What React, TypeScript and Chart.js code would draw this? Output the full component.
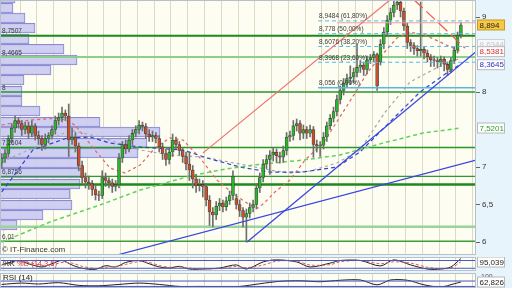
import React, { useEffect, useRef } from "react";
import { Chart, registerables } from "chart.js";
Chart.register(...registerables);

const FONT = '"Liberation Sans", Arial, sans-serif';
const AXIS_W = 36;
const X_MIN = -0.5;
const X_MAX = 141.5;

// ---- candles (one per session) ----
const opens = [
  7.05,7.12,7.18,7.38,7.52,7.62,7.58,7.50,7.55,7.45,
  7.55,7.42,7.38,7.30,7.38,7.42,7.50,7.62,7.66,7.72,
  7.68,7.36,7.40,7.28,7.02,6.86,6.80,6.78,6.70,6.63,
  6.62,6.86,6.82,6.79,6.74,6.77,7.12,7.30,7.24,7.36,
  7.45,7.50,7.56,7.54,7.44,7.40,7.42,7.38,7.27,7.18,
  7.10,7.20,7.36,7.30,7.22,7.14,7.04,6.96,6.84,6.75,
  6.77,6.74,6.56,6.40,6.36,6.48,6.52,6.47,6.55,6.62,
  6.58,6.50,6.42,6.33,6.38,6.46,6.50,6.72,6.86,7.04,
  7.10,7.16,7.20,7.15,7.13,7.22,7.40,7.42,7.55,7.58,
  7.45,7.50,7.45,7.50,7.30,7.28,7.29,7.40,7.55,7.65,
  7.74,7.90,8.02,8.12,8.18,8.20,8.26,8.33,8.36,8.30,
  8.43,8.46,8.50,8.40,8.64,8.80,8.96,9.06,9.16,9.20,
  9.08,8.88,8.66,8.62,8.58,8.55,8.57,8.52,8.47,8.43,
  8.42,8.40,8.44,8.37,8.30,8.42,8.56,8.76];
const highs = [
  7.18,7.24,7.42,7.58,7.68,7.66,7.62,7.60,7.60,7.62,
  7.58,7.48,7.42,7.44,7.46,7.55,7.68,7.72,7.80,7.76,
  7.84,7.52,7.46,7.32,7.08,6.92,6.88,6.82,6.76,6.68,
  6.95,6.92,6.86,6.84,6.82,7.18,7.34,7.36,7.42,7.50,
  7.55,7.62,7.60,7.58,7.50,7.48,7.46,7.42,7.32,7.24,
  7.26,7.44,7.40,7.34,7.26,7.20,7.20,7.02,6.90,6.84,
  6.82,6.78,6.62,6.46,6.54,6.58,6.56,6.60,6.68,6.95,
  6.64,6.56,6.46,6.44,6.52,6.56,6.78,6.92,7.10,7.16,
  7.22,7.26,7.24,7.20,7.28,7.46,7.48,7.62,7.64,7.62,
  7.56,7.54,7.56,7.54,7.36,7.34,7.46,7.60,7.70,7.80,
  7.96,8.08,8.18,8.24,8.35,8.32,8.64,8.42,8.40,8.48,
  8.50,8.54,8.52,8.70,8.86,9.02,9.12,9.22,9.26,9.24,
  9.12,8.92,8.70,8.66,8.62,9.20,8.60,8.56,8.50,8.48,
  8.46,8.48,8.47,8.40,8.46,8.60,8.80,8.93];
const lows = [
  6.98,7.06,7.14,7.32,7.46,7.52,7.42,7.44,7.38,7.40,
  7.36,7.30,7.22,7.24,7.32,7.38,7.44,7.56,7.60,7.62,
  7.14,7.30,7.20,6.95,6.78,6.72,6.70,6.62,6.56,6.55,
  6.58,6.74,6.72,6.66,6.68,6.72,7.06,7.18,7.20,7.30,
  7.40,7.44,7.48,7.38,7.34,7.34,7.32,7.20,7.10,7.02,
  7.04,7.14,7.24,7.16,7.06,6.96,6.82,6.72,6.66,6.68,
  6.60,6.48,6.22,6.20,6.30,6.42,6.40,6.42,6.50,6.56,
  6.44,6.34,6.20,6.00,6.32,6.40,6.44,6.66,6.80,6.98,
  6.90,7.08,7.06,7.05,7.06,7.16,7.34,7.36,7.48,7.36,
  7.38,7.38,7.40,7.13,7.20,7.14,7.24,7.34,7.50,7.60,
  7.68,7.84,7.96,8.06,8.10,8.12,8.20,8.26,8.22,8.24,
  8.38,8.40,8.02,8.36,8.58,8.74,8.90,9.00,9.10,9.00,
  8.82,8.58,8.54,8.50,8.48,8.48,8.44,8.40,8.34,8.34,
  8.32,8.34,8.28,8.22,8.26,8.38,8.52,8.72];
const closes = [
  7.12,7.18,7.38,7.52,7.62,7.58,7.50,7.55,7.45,7.55,
  7.42,7.38,7.30,7.38,7.42,7.50,7.62,7.66,7.72,7.68,
  7.36,7.40,7.28,7.02,6.86,6.80,6.78,6.70,6.63,6.62,
  6.86,6.82,6.79,6.74,6.77,7.12,7.30,7.24,7.36,7.45,
  7.50,7.56,7.54,7.44,7.40,7.42,7.38,7.27,7.18,7.10,
  7.20,7.36,7.30,7.22,7.14,7.04,6.96,6.84,6.75,6.77,
  6.74,6.56,6.40,6.36,6.48,6.52,6.47,6.55,6.62,6.88,
  6.50,6.42,6.33,6.38,6.46,6.50,6.72,6.86,7.04,7.10,
  7.16,7.20,7.15,7.13,7.22,7.40,7.42,7.55,7.58,7.45,
  7.50,7.45,7.50,7.30,7.28,7.29,7.40,7.55,7.65,7.74,
  7.90,8.02,8.12,8.18,8.20,8.26,8.33,8.36,8.30,8.43,
  8.46,8.50,8.08,8.64,8.80,8.96,9.06,9.16,9.20,9.08,
  8.88,8.66,8.62,8.58,8.55,8.57,8.52,8.47,8.43,8.42,
  8.40,8.44,8.37,8.30,8.42,8.56,8.76,8.894];

// ---- volume profile ----
const profilePrices = [9.253,9.12,8.987,8.853,8.707,8.573,8.427,8.293,8.16,8.013,7.88,7.747,7.6,7.467,7.32,7.187,7.053,6.92,6.773,6.64,6.493,6.36,6.227];
const profileVolumes = [15,13,25,35,29,64,77,51,24,22,22,40,100,160,147,138,78,82,80,70,72,43,17];

// ---- horizontal levels ----
const levelValues = [8.7507, 8.4665, 8.0, 7.2604, 6.8756, 6.766, 6.204, 6.01];
const levelColors = ["#1b8a1b", "#8ccf8c", "#2a962a", "#2a962a", "#2f9a2f", "#1b8a1b", "#9bd49b", "#3a9e3a"];
const levelWidths = [2, 2, 1.5, 1.5, 1.2, 2.5, 2.5, 1.5];
const levelLabelled = [true, true, true, true, true, false, false, true];

// ---- fibonacci retracement ----
const fibStart = 94.4;
const fibValues = [8.9484, 8.778, 8.6076, 8.3968, 8.056];
const fibPercents = [61.8, 50, 38.2, 23.6, 0];

// ---- trend lines (index, price) ----
const redUpX = [60, 120];
const redUpY = [7.185, 9.38];
const redDownX = [123, 138.2];
const redDownY = [9.231, 8.587];
const pinkX = [100, 141.5];
const pinkY = [8.924, 8.924];
const blueLowX = [33.8, 141.5];
const blueLowY = [5.82, 7.093];
const blueSteepX = [73.2, 141.5];
const blueSteepY = [6.0, 8.538];

// ---- moving averages (index, price) ----
const maRedX = [0,8.5,17.4,21.9,27.8,32.3,36.8,41.3,45.7,50.2,54.1,59.2,64.2,69.6,74.1,76.5,78.6,81.5,86,90.5,95.9,100.9,106,109,112.9,117.9,121.8,126.3,130.8,137];
const maRedY = [7.56,7.627,7.653,7.56,7.227,6.987,6.92,7.027,7.253,7.387,7.36,7.12,6.827,6.627,6.493,6.453,6.533,6.667,6.827,7.093,7.32,7.667,8.027,8.253,8.467,8.72,8.8,8.76,8.667,8.538];
const maGrayX = [0,11.4,20.4,29.3,41.3,50.2,60.1,71.1,80,86,92,100,106.9,114.4,121.8,130.8,137];
const maGrayY = [7.067,7.293,7.493,7.4,7.227,7.16,7.133,7.04,6.96,6.92,6.947,7.053,7.227,7.733,8.133,8.347,8.453];
const maBlueX = [0,9.3,19.5,26.4,32.3,41.3,54.1,61.3,71.1,80,89.9,100,106.9,115.8,124.8,132.3,137];
const maBlueY = [6.667,7.227,7.387,7.4,7.32,7.267,7.227,7.12,7.0,6.933,6.933,7.0,7.2,7.6,8.0,8.24,8.373];
const maGreenX = [0,14.4,29.3,41.3,56.2,65.1,75,89.9,100.9,113.8,125.7,137];
const maGreenY = [6.0,6.267,6.493,6.693,6.88,6.96,7.027,7.093,7.16,7.32,7.453,7.5201];

// ---- right axis ----
const yTicks = [6, 6.5, 7, 8, 9];
const boxValues = [8.6344, 8.5381, 8.3645, 7.5201, 8.894];
const boxText = ["#c4c4c4", "#cc3030", "#3030c0", "#2aa02a", "#222222"];
const boxFill = ["rgba(250,250,250,0.7)", "#ffffff", "#ffffff", "#ffffff", "#f6c843"];
const boxStroke = ["#d0d0d0", "#b8b8b8", "#b8b8b8", "#b8b8b8", "#c99a1c"];

// ---- stochastic ----
const stochIdx = [0,3,5,8,12,15,18,21,24,28,31,34,37,41,44,47,50,53,56,60,65,70,73,78,82,88,92,98,101,107,113,117,122,127,131,134,137];
const stochK = [45,70,80,55,30,55,80,45,20,12,40,30,65,80,55,30,22,35,14,14,22,46,14,69,85,69,30,60,80,80,38,85,46,14,14,30,95.039];
const stochD = [50,60,72,65,42,45,65,60,35,18,28,34,50,72,65,42,28,30,22,15,18,35,25,45,75,75,45,48,70,80,55,70,60,28,16,22,70];
const stochLevels = [20, 80];

// ---- RSI ----
const rsiIdx = [0,6,11,17,23,29,35,41,47,53,59,65,71,77,83,89,95,101,107,112,116,121,126,131,135,137];
const rsiVals = [45,55,48,58,38,35,45,55,45,30,30,28,30,50,68,72,65,76,78,42,78,76,42,26,50,62.826];
const rsiLevels = [70, 30];

const weekLines: number[] = [];
for (let k = 0; k * 5 + 0.5 < X_MAX; k++) weekLines.push(k * 5 + 0.5);

const fmt = (v: number) => String(v).replace(".", ",");

const pts = (xs: number[], ys: number[]) => xs.map((x, k) => ({ x, y: ys[k] }));

const lineDs = (xs: number[], ys: number[], color: string, width: number, dash: number[], order: number) => ({
  type: "line" as const,
  data: pts(xs, ys),
  borderColor: color,
  borderWidth: width,
  borderDash: dash,
  pointRadius: 0,
  fill: false,
  tension: 0,
  order,
  xAxisID: "x",
  yAxisID: "y",
});

const xScale = () => ({
  type: "linear" as const,
  min: X_MIN,
  max: X_MAX,
  offset: false,
  display: true,
  ticks: { display: false },
  grid: { color: "rgba(200,195,165,0.6)", drawTicks: false, lineWidth: 1, offset: false },
  border: { display: false },
  afterBuildTicks: (s: any) => { s.ticks = weekLines.map((v) => ({ value: v })); },
  afterFit: (s: any) => { s.height = 0; s.paddingLeft = 0; s.paddingRight = 0; },
});

const drawBox = (ctx: CanvasRenderingContext2D, y: number, text: string, fill: string, stroke: string, color: string, x0: number) => {
  ctx.fillStyle = fill;
  ctx.fillRect(x0 + 1.5, y - 5, 27, 10);
  ctx.strokeStyle = stroke;
  ctx.lineWidth = 1;
  ctx.strokeRect(x0 + 1.5, y - 5, 27, 10);
  ctx.fillStyle = color;
  ctx.font = `8px ${FONT}`;
  ctx.textBaseline = "middle";
  ctx.textAlign = "left";
  ctx.fillText(text, x0 + 3.5, y + 0.5);
};

const panelBg = {
  id: "panelBg",
  beforeDraw(chart: any) {
    const { ctx, chartArea: a, width, height } = chart;
    ctx.save();
    ctx.fillStyle = "#e7f4fb";
    ctx.fillRect(0, 0, width, height);
    ctx.fillStyle = "#fdfdf1";
    ctx.fillRect(a.left, a.top, a.right - a.left, a.bottom - a.top);
    ctx.restore();
  },
  afterDraw(chart: any) {
    const { ctx, chartArea: a } = chart;
    ctx.save();
    ctx.strokeStyle = "#b4c0cc";
    ctx.lineWidth = 1;
    ctx.strokeRect(a.left + 0.5, a.top + 0.5, a.right - a.left - 1, a.bottom - a.top - 1);
    ctx.restore();
  },
};

const mainDecor = {
  id: "mainDecor",
  afterDatasetsDraw(chart: any) {
    const { ctx } = chart;
    const y = chart.scales.y;
    const x = chart.scales.x;
    ctx.save();
    ctx.font = `6.5px ${FONT}`;
    ctx.textBaseline = "bottom";
    ctx.textAlign = "left";
    ctx.fillStyle = "#3a3a3a";
    levelValues.forEach((v, k) => {
      if (!levelLabelled[k]) return;
      ctx.fillText(fmt(v), 2, y.getPixelForValue(v) - 1);
    });
    const fx = x.getPixelForValue(fibStart) + 1;
    fibValues.forEach((v, k) => {
      const label = `${fmt(v)} (${fibPercents[k].toFixed(2).replace(".", ",")}%)`;
      ctx.fillText(label, fx, y.getPixelForValue(v) - 1);
    });
    ctx.font = `8px ${FONT}`;
    ctx.textBaseline = "middle";
    ctx.fillStyle = "#333";
    ctx.fillText("\u00a9 IT-Finance.com", 2, chart.chartArea.bottom - 5);
    ctx.restore();
  },
  afterDraw(chart: any) {
    const { ctx } = chart;
    const y = chart.scales.y;
    ctx.save();
    boxValues.forEach((v, k) => {
      drawBox(ctx, y.getPixelForValue(v), fmt(v), boxFill[k], boxStroke[k], boxText[k], chart.chartArea.right);
    });
    ctx.restore();
  },
};

function mainConfig(): any {
  const candleColors = closes.map((c, i) => (c >= opens[i] ? "#2db42d" : "#c84f2a"));
  const datasets: any[] = [
    {
      type: "bar",
      indexAxis: "y",
      grouped: false,
      xAxisID: "xv",
      yAxisID: "y",
      order: 30,
      barThickness: 9.6,
      backgroundColor: "rgba(202,202,242,0.9)",
      borderColor: "#8a8ad2",
      borderWidth: 1,
      data: profilePrices.map((p, k) => ({ x: profileVolumes[k], y: p })),
    },
    ...levelValues.map((v, k) => lineDs([X_MIN, X_MAX], [v, v], levelColors[k], levelWidths[k], [], 20)),
    lineDs(maGreenX, maGreenY, "#5fd35f", 1.5, [4, 3], 15),
    lineDs(maBlueX, maBlueY, "#3344cc", 1.2, [4, 3], 15),
    lineDs(maGrayX, maGrayY, "#a8a8a8", 1.2, [3, 3], 15),
    lineDs(maRedX, maRedY, "#e06464", 1.2, [3, 3], 15),
    {
      type: "bar",
      grouped: false,
      order: 12,
      barThickness: 1,
      backgroundColor: "#6e6e6e",
      xAxisID: "x",
      yAxisID: "y",
      data: lows.map((l, i) => ({ x: i, y: [l, highs[i]] })),
    },
    {
      type: "bar",
      grouped: false,
      order: 11,
      barThickness: 3,
      borderSkipped: false,
      borderWidth: 0.7,
      borderColor: "rgba(45,45,45,0.85)",
      backgroundColor: candleColors,
      xAxisID: "x",
      yAxisID: "y",
      data: closes.map((c, i) => ({ x: i, y: [opens[i], c] })),
    },
    ...fibValues.map((v, k) =>
      lineDs([fibStart, X_MAX], [v, v], "#5ab6e8", k === fibValues.length - 1 ? 1.5 : 1, k === fibValues.length - 1 ? [] : [4, 3], 8)
    ),
    lineDs(pinkX, pinkY, "#f0a0a0", 1.2, [], 7),
    lineDs(redUpX, redUpY, "#f07070", 1.2, [], 6),
    lineDs(redDownX, redDownY, "#ee5a5a", 1.3, [12, 5], 6),
    lineDs(blueLowX, blueLowY, "#3a46e0", 1.3, [], 5),
    lineDs(blueSteepX, blueSteepY, "#3a46e0", 1.3, [], 5),
  ];
  return {
    type: "bar",
    data: { datasets },
    options: {
      responsive: false,
      animation: false,
      devicePixelRatio: 1,
      layout: { padding: { left: 0, right: 0, top: 0, bottom: 1 }, autoPadding: false },
      plugins: { legend: { display: false }, tooltip: { enabled: false } },
      scales: {
        x: xScale(),
        xv: { type: "linear", min: 0, max: 476, display: false, offset: false, grid: { offset: false } },
        y: {
          type: "linear",
          position: "right",
          min: 5.827,
          max: 9.227,
          offset: false,
          beginAtZero: false,
          afterBuildTicks: (s: any) => { s.ticks = yTicks.map((v) => ({ value: v })); },
          afterFit: (s: any) => { s.width = AXIS_W; s.paddingTop = 0; s.paddingBottom = 0; },
          ticks: { callback: (v: number) => fmt(v), color: "#333", font: { size: 8, family: FONT }, padding: 2, autoSkip: false },
          grid: { drawOnChartArea: false, drawTicks: true, tickLength: 4, color: "#666", offset: false },
          border: { display: false },
        },
      },
    },
    plugins: [panelBg, mainDecor],
  };
}

function stochConfig(): any {
  const decor = {
    id: "stochDecor",
    afterDatasetsDraw(chart: any) {
      const { ctx, chartArea: a } = chart;
      ctx.save();
      ctx.font = `7.5px ${FONT}`;
      ctx.textBaseline = "middle";
      ctx.textAlign = "left";
      ctx.fillStyle = "#222";
      ctx.fillText("%K", 3, (a.top + a.bottom) / 2);
      ctx.fillStyle = "#d04040";
      ctx.fillText("%D (14,3,5)", 17, (a.top + a.bottom) / 2);
      ctx.restore();
    },
    afterDraw(chart: any) {
      const { ctx, chartArea: a } = chart;
      const v = stochK[stochK.length - 1];
      let y = chart.scales.y.getPixelForValue(v);
      y = Math.max(a.top + 5, Math.min(a.bottom - 5, y));
      ctx.save();
      drawBox(ctx, y, fmt(v), "#ffffff", "#b8b8b8", "#222", a.right);
      ctx.restore();
    },
  };
  return {
    type: "line",
    data: {
      datasets: [
        ...stochLevels.map((v) => ({ data: [{ x: X_MIN, y: v }, { x: X_MAX, y: v }], borderColor: "#4a52d4", borderWidth: 1, pointRadius: 0 })),
        { data: pts(stochIdx, stochD), borderColor: "#e06060", borderWidth: 1, borderDash: [3, 2], pointRadius: 0, tension: 0.3 },
        { data: pts(stochIdx, stochK), borderColor: "#222", borderWidth: 1, pointRadius: 0, tension: 0.3 },
      ],
    },
    options: {
      responsive: false,
      animation: false,
      devicePixelRatio: 1,
      layout: { padding: 0, autoPadding: false },
      plugins: { legend: { display: false }, tooltip: { enabled: false } },
      scales: {
        x: xScale(),
        y: {
          type: "linear",
          position: "right",
          min: -1,
          max: 107,
          ticks: { display: false },
          grid: { drawOnChartArea: false, drawTicks: false },
          border: { display: false },
          afterFit: (s: any) => { s.width = AXIS_W; s.paddingTop = 0; s.paddingBottom = 0; },
        },
      },
    },
    plugins: [panelBg, decor],
  };
}

function rsiConfig(): any {
  const decor = {
    id: "rsiDecor",
    afterDatasetsDraw(chart: any) {
      const { ctx, chartArea: a } = chart;
      ctx.save();
      ctx.font = `8px ${FONT}`;
      ctx.textBaseline = "middle";
      ctx.textAlign = "left";
      ctx.fillStyle = "#222";
      ctx.fillText("RSI (14)", 3, a.top + 5);
      ctx.restore();
    },
    afterDraw(chart: any) {
      const { ctx, chartArea: a } = chart;
      const ys = chart.scales.y;
      ctx.save();
      ctx.font = `7px ${FONT}`;
      ctx.fillStyle = "#555";
      ctx.textBaseline = "middle";
      ctx.fillText("100", a.right + 5, ys.getPixelForValue(100));
      const v = rsiVals[rsiVals.length - 1];
      drawBox(ctx, ys.getPixelForValue(v), fmt(v), "#ffffff", "#b8b8b8", "#222", a.right);
      ctx.restore();
    },
  };
  return {
    type: "line",
    data: {
      datasets: [
        ...rsiLevels.map((v) => ({ data: [{ x: X_MIN, y: v }, { x: X_MAX, y: v }], borderColor: "#4a52d4", borderWidth: 1, pointRadius: 0 })),
        { data: pts(rsiIdx, rsiVals), borderColor: "#222", borderWidth: 1, pointRadius: 0, tension: 0.3 },
      ],
    },
    options: {
      responsive: false,
      animation: false,
      devicePixelRatio: 1,
      layout: { padding: 0, autoPadding: false },
      plugins: { legend: { display: false }, tooltip: { enabled: false } },
      scales: {
        x: xScale(),
        y: {
          type: "linear",
          position: "right",
          min: 18.5,
          max: 129.6,
          ticks: { display: false },
          grid: { drawOnChartArea: false, drawTicks: false },
          border: { display: false },
          afterFit: (s: any) => { s.width = AXIS_W; s.paddingTop = 0; s.paddingBottom = 0; },
        },
      },
    },
    plugins: [panelBg, decor],
  };
}

export default function App() {
  const mainRef = useRef<HTMLCanvasElement>(null);
  const stochRef = useRef<HTMLCanvasElement>(null);
  const rsiRef = useRef<HTMLCanvasElement>(null);

  useEffect(() => {
    const charts = [
      new Chart(mainRef.current as HTMLCanvasElement, mainConfig()),
      new Chart(stochRef.current as HTMLCanvasElement, stochConfig()),
      new Chart(rsiRef.current as HTMLCanvasElement, rsiConfig()),
    ];
    return () => charts.forEach((c) => c.destroy());
  }, []);

  const cs = (top: number, h: number): React.CSSProperties => ({ position: "absolute", left: 0, top, width: 512, height: h, display: "block" });

  return (
    <div style={{ position: "fixed", left: 0, top: 0, width: 512, height: 288, background: "#e7f4fb", overflow: "hidden" }}>
      <canvas ref={mainRef} width={512} height={256} style={cs(0, 256)} />
      <canvas ref={stochRef} width={512} height={14} style={cs(257, 14)} />
      <canvas ref={rsiRef} width={512} height={15} style={cs(273, 15)} />
    </div>
  );
}
